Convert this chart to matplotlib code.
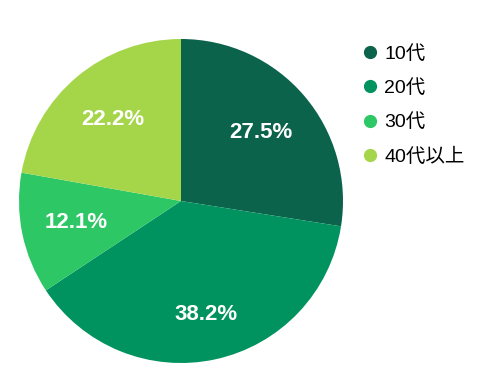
import matplotlib.pyplot as plt
from matplotlib.lines import Line2D

plt.rcParams['font.family'] = ['Liberation Sans', 'Noto Sans CJK JP', 'DejaVu Sans']

labels = ['10代', '20代', '30代', '40代以上']
values = [27.5, 38.2, 12.1, 22.2]
colors = ['#0a634a', '#00935f', '#2dc766', '#a5d64a']
# label distance from centre, as fraction of radius
label_dist = [0.65, 0.72, 0.66, 0.66]

fig = plt.figure(figsize=(4.86, 3.83), dpi=100)
# pie centre ~ (181, 201) px, radius ~162 px
ax = fig.add_axes([(181 - 162) / 486, (383 - 363) / 383, 324 / 486, 324 / 383])

wedges, texts = ax.pie(values, colors=colors, startangle=90, counterclock=False,
                       labels=[f'{v}%' for v in values], labeldistance=1.0,
                       wedgeprops=dict(linewidth=0))
for t, d in zip(texts, label_dist):
    x, y = t.get_position()
    t.set_position((x * d, y * d))
    t.set_color('white')
    t.set_fontsize(16)
    t.set_fontweight('bold')
    t.set_ha('center')
    t.set_va('center')
ax.set_xlim(-1, 1)
ax.set_ylim(-1, 1)
ax.set_aspect('equal')

handles = [Line2D([], [], marker='o', linestyle='', markersize=8.5,
                  markerfacecolor=c, markeredgecolor=c) for c in colors]
fig.legend(handles, labels, loc='upper left', bbox_to_anchor=(356 / 486, 1 - 37 / 383),
           frameon=False, fontsize=14, handlelength=0.6, handletextpad=0.45,
           labelspacing=0.85, borderaxespad=0)

fig.savefig('out.png', dpi=100)
